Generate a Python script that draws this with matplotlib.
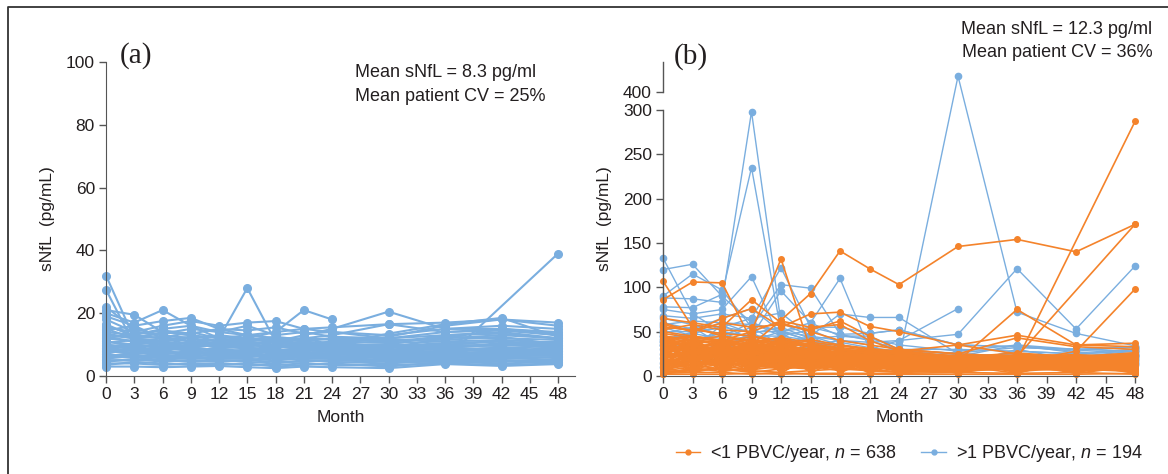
import matplotlib
matplotlib.use("Agg")
import matplotlib.pyplot as plt
from matplotlib.lines import Line2D
import numpy as np

plt.rcParams['font.family'] = ['Liberation Sans', 'DejaVu Sans']
plt.rcParams['mathtext.fontset'] = 'custom'
plt.rcParams['mathtext.rm'] = 'Liberation Sans'
plt.rcParams['mathtext.it'] = 'Liberation Sans:italic'

# Visit months
months = [0, 3, 6, 9, 12, 15, 18, 21, 24, 30, 36, 42, 48]
month_ticks = list(range(0, 49, 3))

# Panel (a): one row per patient, sNfL in pg/mL (None = no sample)
panel_a = [
    [32, 12, 9, 8, 9, 7, 8, 9, 8, 7, 8, 7, 8],
    [27.5, 10, 11, 9, 10, 9, 8, 9, 9, 8, 9, 8, 9],
    [22, 15, 13, 12, 11, 10, 11, 12, 10, 10, 9, 10, 11],
    [21, 19.5, 14, 13, 12, 11, 12, 10, 11, 9, 10, 11, 10],
    [20, 17, 21, 16, 14, 13, 12, 11, 12, 11, 12, 13, 12],
    [19, 16, 17.5, 18.5, 15, 13, 14, 15, 14, 13, 15, 15, 14],
    [18, 14, 16, 17.5, 16, 17, 17.5, 15, 15.5, 16.5, 17, 18, 17],
    [16, 13, 15, 16, 12, 28, 11, 10, 9, 10, 9, 10, 9],
    [15, 12, 14, 13, 11, 12, 14, 21, 18, None, None, None, None],
    [15.5, 14, 13, 12, 13, 12, 11, 13, 15, 20.5, 15, 16, 15],
    [14, 13, 12, 14, 12, 13, 12, 12, 13, 16.5, 14, 14.5, 13],
    [13, 12, 11, 12, 10, 11, 10, 11, 10, 13.5, 16.5, 18.5, 12.5],
    [12, 11, 12, 10, 11, 9, 12, 11, 10, 12.5, 16, 18, 16],
    [7, 6, 7, 8, 7, 6, 7, 6, 7, 6, 5.5, None, 39],
    [11, 10, 9, 11, 9, 10, 9, 10, 9, 9, 12, 15, 13],
    [12.5, 11, 10, 9, 10, 9, 8, 9, 9, 10, 13, 14, 12],
    [10, 9, 8, 9, 8, 8, 7, 8, 8, 7, 8, 9, 8],
    [9, 8, 9, 8, 7, 8, 8, 7, 7, 8, 7, 8, 7],
    [8, 7, 8, 7, 8, 7, 6, 7, 6, 7, 7, 6, 7],
    [7, 6, 6, 7, 6, 6, 7, 6, 6, 5, 6, 6, 6],
    [6, 6, 5, 6, 5, 5, 6, 5, 5, 5, 5, 6, 5],
    [5, 5, 5, 4.5, 5, 4.5, 4, 5, 4.5, 4, 5, 5, 4.5],
    [4, 4, 3.5, 4, 4, 3.5, 3.5, 4, 3.5, 3.5, 4, 3.5, 4],
    [3, 3, 2.8, 3, 3.2, 2.8, 2.5, 3, 2.8, 2.5, 3.8, 3.2, 3.8],
    [11, 9.5, 10, 10.5, 9, 9.5, 10, 9, 8.5, 9, 9.5, 10, 10],
    [9.5, 10, 9, 9.5, 10, 8.5, 9, 9.5, 9, 8, 8.5, 9, 9.5],
    [8.5, 8, 9.5, 8, 9, 9, 8.5, 8, 8.5, 7.5, 8, 8.5, 8],
    [7.5, 8.5, 7, 7.5, 7, 7.5, 8, 7.5, 7, 7, 7.5, 7, 7.5],
    [6.5, 7, 7.5, 6.5, 6.5, 7, 6.5, 6.5, 7.5, 6.5, 6.5, 7.5, 6.5],
    [5.5, 6.5, 6, 5.5, 6, 6.5, 5.5, 6, 6, 6, 6, 5.5, 6],
    [4.5, 5.5, 4.5, 5, 4.5, 5, 4.5, 4.5, 5, 4.5, 4.5, 4.5, 5.5],
    [3.5, 4.5, 4, 3.5, 3.5, 4, 3, 3.5, 4, 3, 4.5, 4, 4.5],
    [13.5, 12, 12.5, 11, 11.5, 10.5, 11, 10, 11, 10.5, 11, 11.5, 10.5],
    [10.5, 11.5, 11, 10, 9.5, 11, 9.5, 10.5, 9.5, 9.5, 10, 9.5, 11],
    [9, 9, 10.5, 8.5, 8.5, 8, 10, 8.5, 8, 8.5, 9, 10.5, 9],
    [8, 7.5, 8.5, 9, 7.5, 8.5, 7.5, 8.5, 7.5, 8, 7, 8, 8.5],
    [6, 7.5, 6.5, 6, 7, 6, 7, 7, 6.5, 5.5, 6.5, 7, 7],
    [5, 5, 5.5, 5.5, 5.5, 5.5, 5, 5.5, 5.5, 5, 5.5, 5, 5],
    [14.5, 16, 12, 11, 10, 12, 10.5, 12, 11.5, 11, 12.5, 12, 11.5],
    [16.5, 12.5, 13.5, 15, 14, 16, 13, 14, 12.5, 12, 13, 13.5, 12],
    [12, 13.5, 14.5, 13.5, 15, 14.5, 15.5, 13.5, 14, 12, 14, 15, 13.5],
    [9, 10.5, 11.5, 12.5, 12.5, 11.5, 12.5, 11.5, 12, 11.5, 11.5, 12.5, 10],
    [10, 8.5, 9, 10, 10.5, 10, 9, 10, 10, 9.5, 10.5, 11, 9.5],
    [7, 9.5, 8, 7, 8, 7, 8, 7, 8, 7.5, 9, 7.5, 8],
    [6.5, 6, 7, 7.5, 6.5, 8, 6, 6.5, 6, 6.5, 6, 6.5, 6.5],
]

# Panel (b): >1 PBVC/year group
high_pbvc = [
    [133, 70, 50, 45, 40, 35, 28, 25, 20, 18, 16, 18, 20],
    [120, 126, 90, 60, 50, 40, 30, 22, 20, 18, 18, 20, 22],
    [90, 115, 97, 55, 103, 99, 47, 40, 30, 25, 22, 20, 18],
    [88, 87, 83, 298, 60, 45, 35, 30, 25, 20, 18, 22, 25],
    [78, 77, 92, 235, 50, 40, 30, 28, 22, 20, 20, 22, 24],
    [75, 70, 75, 112, 40, 35, 30, 25, 20, 22, 35, 30, 33],
    [68, 65, 70, 65, 122, 55, 47, 48, 52, 35, 33, 28, 33],
    [60, 53, 65, 76, 50, 45, 40, 38, 40, 76, None, None, None],
    [55, 45, 40, 35, 30, 28, 25, 22, 20, 418, 72, 48, 34],
    [50, 50, 55, 50, 50, 60, 45, 45, 30, 30, 28, 25, 28],
    [45, 40, 50, 45, 96, 60, 110, 30, 25, 20, 18, 20, 22],
    [42, 48, 55, 65, 71, 45, 70, 66, 66, 25, 22, 20, 24],
    [38, 50, 60, 58, 50, 55, 55, 48, 52, 35, 33, 30, 28],
    [35, 30, 40, 45, 45, 40, 35, 30, 40, 47, 121, 53, 124],
    [52, 40, 48, 35, 45, 30, 25, 20, 22, 15, 18, 14, 16],
    [48, 55, 35, 45, 38, 40, 30, 25, 18, 20, 15, 19, 22],
    [45, 30, 58, 40, 50, 25, 35, 30, 25, 18, 22, 17, 14],
    [40, 48, 42, 55, 35, 45, 28, 22, 28, 22, 25, 20, 26],
    [35, 25, 30, 28, 42, 35, 40, 35, 20, 14, 28, 25, 18],
    [30, 38, 25, 50, 28, 22, 20, 28, 30, 24, 20, 22, 28],
    [25, 20, 40, 22, 30, 38, 32, 18, 15, 12, 30, 18, 20],
    [20, 35, 18, 30, 25, 18, 22, 30, 24, 20, 14, 24, 30],
    [15, 12, 22, 18, 20, 15, 18, 15, 12, 10, 12, 12, 15],
    [10, 18, 14, 12, 15, 12, 10, 12, 18, 8, 10, 10, 12],
    [65, 58, 45, 60, 45, 52, 38, 32, 28, 26, 32, 30, 32],
    [58, 62, 60, 48, 55, 42, 45, 42, 35, 28, 35, 26, 30],
]

# Panel (b): <1 PBVC/year group
low_pbvc = [
    [45, 30, 40, 25, 38, 20, 28, 15, 24, 12, 20, 10, 22],
    [42, 44, 20, 38, 15, 32, 12, 28, 10, 20, 8, 18, 12],
    [40, 25, 43, 30, 40, 18, 30, 22, 26, 16, 22, 20, 24],
    [38, 40, 35, 42, 28, 34, 25, 30, 20, 22, 18, 21, 19],
    [36, 18, 30, 15, 34, 26, 20, 14, 22, 10, 24, 15, 20],
    [34, 38, 28, 36, 22, 30, 32, 18, 28, 18, 14, 22, 16],
    [32, 22, 38, 28, 42, 22, 18, 26, 15, 20, 20, 12, 23],
    [30, 35, 25, 40, 30, 15, 26, 20, 24, 14, 16, 19, 14],
    [28, 15, 33, 20, 25, 35, 14, 24, 12, 21, 12, 16, 25],
    [26, 32, 18, 34, 18, 28, 22, 12, 26, 12, 23, 14, 11],
    [24, 28, 42, 22, 36, 12, 30, 25, 18, 16, 10, 22, 18],
    [22, 42, 22, 32, 14, 24, 16, 30, 14, 19, 19, 11, 21],
    [20, 12, 36, 18, 32, 20, 24, 10, 20, 8, 15, 17, 9],
    [18, 36, 15, 38, 20, 16, 10, 22, 9, 17, 21, 8, 17],
    [16, 20, 32, 12, 26, 30, 20, 16, 25, 11, 9, 20, 13],
    [14, 33, 12, 30, 10, 25, 28, 8, 16, 15, 17, 13, 22],
    [12, 26, 28, 10, 38, 10, 18, 20, 11, 7, 13, 18, 8],
    [10, 16, 24, 35, 16, 22, 8, 18, 19, 13, 20, 9, 16],
    [8, 30, 10, 26, 30, 8, 22, 11, 7, 18, 7, 15, 10],
    [6, 10, 26, 16, 12, 26, 12, 24, 13, 6, 16, 7, 20],
    [4, 24, 8, 28, 24, 14, 16, 6, 21, 10, 11, 18, 6],
    [3, 8, 20, 8, 20, 18, 6, 14, 5, 14, 6, 12, 14],
    [44, 20, 16, 24, 8, 34, 14, 27, 17, 9, 18, 6, 12],
    [41, 6, 34, 6, 35, 6, 24, 9, 23, 5, 12, 20, 7],
    [39, 27, 6, 33, 6, 28, 4, 19, 8, 19, 5, 10, 18],
    [37, 14, 39, 14, 33, 4, 31, 5, 27, 4, 22, 4, 15],
    [35, 42, 14, 44, 4, 20, 9, 26, 4, 16, 4, 16, 5],
    [33, 4, 30, 4, 28, 12, 29, 4, 18, 3, 19, 3, 24],
    [31, 34, 4, 20, 9, 33, 3, 21, 3, 12, 3, 21, 4],
    [29, 3, 23, 3, 39, 3, 20, 3, 15, 3, 14, 3, 11],
    [27, 39, 3, 36, 3, 25, 5, 23, 6, 15, 8, 14, 3],
    [25, 5, 37, 11, 23, 5, 27, 7, 22, 6, 21, 5, 19],
    [23, 37, 5, 24, 5, 31, 7, 29, 7, 17, 5, 19, 6],
    [21, 7, 29, 5, 37, 7, 19, 5, 21, 5, 17, 6, 21],
    [19, 29, 7, 42, 7, 19, 11, 17, 10, 20, 7, 17, 8],
    [17, 11, 27, 7, 29, 11, 23, 13, 24, 7, 15, 9, 17],
    [15, 23, 11, 32, 11, 27, 13, 28, 11, 13, 12, 13, 10],
    [13, 19, 35, 9, 27, 9, 26, 10, 19, 9, 18, 11, 23],
    [11, 41, 19, 27, 13, 29, 9, 25, 6, 21, 10, 15, 7],
    [9, 13, 41, 13, 31, 13, 17, 15, 25, 8, 22, 7, 16],
    [7, 31, 17, 23, 17, 17, 21, 7, 12, 14, 6, 19, 9],
    [5, 17, 31, 19, 21, 15, 13, 19, 14, 10, 19, 12, 20],
    [47, 26, 21, 29, 19, 23, 15, 21, 16, 11, 13, 14, 13],
    [46, 36, 24, 17, 33, 21, 25, 16, 20, 13, 16, 17, 15],
    [43, 21, 37, 21, 41, 24, 27, 12, 23, 15, 11, 18, 24],
    [2, 9, 13, 40, 15, 16, 10, 13, 8, 17, 20, 10, 12],
    [3, 4, 4, 2, 4, 2, 2, 2, 2, 2, 2, 2, 3],
    [2, 2, 2, 3, 2, 3, 3, 3, 3, 4, 3, 4, 2],
    [14, 18, 22, 26, 30, 26, 22, 18, 14, 10, 14, 18, 22],
    [26, 22, 18, 14, 10, 14, 18, 22, 26, 22, 18, 14, 10],
    [38, 34, 30, 26, 34, 30, 26, 22, 18, 14, 18, 22, 26],
    [8, 12, 16, 20, 24, 28, 24, 20, 16, 12, 8, 12, 16],
    [20, 24, 28, 32, 28, 24, 20, 16, 12, 16, 20, 16, 12],
    [32, 28, 24, 20, 16, 20, 24, 28, 22, 18, 14, 10, 14],
    [42, 36, 33, 30, 27, 24, 21, 18, 15, 20, 17, 14, 19],
    [5, 7, 9, 11, 13, 11, 9, 7, 5, 7, 9, 11, 9],
    [11, 15, 19, 23, 27, 31, 27, 23, 19, 15, 11, 7, 11],
    [23, 27, 31, 35, 31, 27, 23, 19, 15, 11, 15, 19, 15],
    [35, 31, 27, 23, 19, 15, 11, 15, 19, 23, 19, 15, 19],
    [17, 21, 25, 29, 33, 37, 30, 26, 22, 18, 22, 18, 14],
    [29, 33, 37, 41, 37, 33, 29, 25, 21, 17, 13, 9, 13],
    [41, 45, 40, 35, 30, 25, 20, 15, 10, 6, 10, 14, 18],
    [4, 6, 8, 6, 4, 6, 8, 6, 4, 6, 8, 6, 8],
    [48, 43, 39, 44, 40, 36, 32, 29, 26, 23, 21, 19, 17],
    [37, 41, 45, 39, 43, 38, 34, 30, 27, 21, 23, 24, 21],
    [24, 20, 16, 12, 8, 12, 16, 20, 24, 20, 16, 12, 8],
    [9, 13, 17, 21, 25, 21, 17, 13, 9, 5, 9, 13, 17],
    [31, 36, 41, 37, 33, 29, 25, 21, 17, 13, 9, 13, 17],
    [19, 15, 11, 7, 11, 15, 19, 23, 27, 19, 24, 21, 25],
    [45, 41, 37, 33, 37, 41, 35, 31, 28, 22, 20, 18, 16],
    [13, 9, 5, 9, 13, 17, 21, 25, 29, 21, 17, 13, 9],
    [27, 31, 26, 21, 16, 11, 6, 11, 16, 21, 26, 21, 26],
    [33, 29, 34, 38, 42, 35, 28, 21, 14, 7, 12, 17, 22],
    [16, 12, 8, 4, 8, 12, 16, 20, 17, 14, 11, 8, 5],
    [22, 26, 30, 34, 38, 34, 30, 26, 22, 18, 14, 10, 6],
    [6, 4, 10, 16, 12, 8, 14, 10, 6, 10, 14, 18, 14],
    [40, 44, 39, 34, 29, 24, 19, 14, 9, 14, 19, 23, 20],
    [12, 16, 14, 12, 10, 8, 12, 10, 8, 9, 10, 8, 10],
    [107, 55, 45, 40, 38, 35, 30, 25, 22, 20, 18, 16, 18],
    [86, 106, 105, 40, 35, 30, 25, 22, 20, 18, 17, 16, 15],
    [65, 60, 55, 86, 60, 50, 40, 35, 30, 25, 22, 20, 22],
    [60, 50, 65, 76, 55, 70, 72, 56, 50, 35, 46, 35, 37],
    [45, 40, 38, 35, 63, 93, 141, 121, 103, 146, 154, 140, 171],
    [50, 45, 40, 50, 132, 30, 25, 20, 18, 15, 14, 15, 16],
    [40, 35, 30, 25, 22, 18, 15, 14, 12, 15, 18, None, 287],
    [35, 30, 28, 25, 22, 20, 18, 16, 15, 12, 22, None, 171],
    [30, 28, 25, 22, 20, 18, 16, 15, 14, 12, 15, 28, 98],
    [55, 52, 48, 45, 40, 35, 30, 28, 25, 17, 75, 35, 33],
    [58, 50, 60, 55, 58, 52, 62, 45, 30, 25, 43, 33, 30],
    [52, 58, 52, 50, 62, 55, 58, 40, 28, 35, 25, 22, 20],
]

labels = [r'<1 PBVC/year, $n$ = 638', r'>1 PBVC/year, $n$ = 194']
stats_a = ['Mean sNfL = 8.3 pg/ml', 'Mean patient CV = 25%']
stats_b = ['Mean sNfL = 12.3 pg/ml', 'Mean patient CV = 36%']

blue = '#7AAEDF'
orange = '#F4832B'
spine_c = '#555555'
text_c = '#231F20'


def visits(row):
    xs = [m for m, v in zip(months, row) if v is not None]
    ys = [v for v in row if v is not None]
    return xs, ys


# broken y axis for panel (b): 300-400 squeezed into a small gap
def fwd(y):
    y = np.asarray(y, dtype=float)
    return np.where(y <= 300, y, np.where(y < 400, 300 + (y - 300) * 0.2, 320 + (y - 400)))


def inv(t):
    t = np.asarray(t, dtype=float)
    return np.where(t <= 300, t, np.where(t < 320, 300 + (t - 300) / 0.2, 400 + (t - 320)))


W, H = 1168, 474
fig = plt.figure(figsize=(W / 100, H / 100), dpi=100)
ax1 = fig.add_axes([106 / W, 1 - 376 / H, (575 - 106) / W, (376 - 62) / H])
ax2 = fig.add_axes([663 / W, 1 - 376 / H, (1137 - 663) / W, (376 - 62) / H])

# outer frame (left and top only)
fig.add_artist(Line2D([8 / W, 8 / W, 1], [0, 1 - 7 / H, 1 - 7 / H],
                      transform=fig.transFigure, color='#333333', lw=1.3))

# ---- panel (a)
for row in panel_a:
    xs, ys = visits(row)
    ax1.plot(xs, ys, color=blue, lw=1.5, marker='o', ms=5.5, clip_on=False)

ax1.set_xlim(0, 49.8)
ax1.set_ylim(0, 100)
ax1.set_yticks(range(0, 101, 20))

# ---- panel (b)
ax2.set_yscale('function', functions=(fwd, inv))
for row in high_pbvc:
    xs, ys = visits(row)
    ax2.plot(xs, ys, color=blue, lw=1.0, marker='o', ms=4.5, clip_on=False)
for row in low_pbvc:
    xs, ys = visits(row)
    ax2.plot(xs, ys, color=orange, lw=1.2, marker='o', ms=4, clip_on=False)

ax2.set_xlim(0, 48.2)
ax2.set_ylim(0, 434)
ax2.set_yticks([0, 50, 100, 150, 200, 250, 300, 400])
ax2.spines['left'].set_visible(False)
ytr = ax2.get_yaxis_transform()
ax2.plot([0, 0], [0, 300], transform=ytr, color=spine_c, lw=1.0, clip_on=False)
ax2.plot([0, 0], [400, 434], transform=ytr, color=spine_c, lw=1.0, clip_on=False)

for ax in (ax1, ax2):
    ax.set_xticks(month_ticks)
    for s in ('top', 'right'):
        ax.spines[s].set_visible(False)
    for s in ('left', 'bottom'):
        ax.spines[s].set_color(spine_c)
    ax.tick_params(direction='out', length=5, width=1, color=spine_c,
                   labelsize=12.5, labelcolor=text_c, pad=3)
    ax.set_xlabel('Month', fontsize=12.5, color=text_c, labelpad=6)
    ax.set_ylabel('sNfL  (pg/mL)', fontsize=12.5, color=text_c, labelpad=8)

ax1.text(0.03, 1.022, '(a)', transform=ax1.transAxes, fontsize=21,
         family='Liberation Serif', va='center', ha='left', color=text_c)
ax2.text(0.023, 1.019, '(b)', transform=ax2.transAxes, fontsize=21,
         family='Liberation Serif', va='center', ha='left', color=text_c)

ax1.text(0.531, 0.965, stats_a[0], transform=ax1.transAxes, fontsize=13,
         va='center', ha='left', color=text_c)
ax1.text(0.531, 0.891, stats_a[1], transform=ax1.transAxes, fontsize=13,
         va='center', ha='left', color=text_c)
ax2.text(1.032, 1.102, stats_b[0], transform=ax2.transAxes, fontsize=13,
         va='center', ha='right', color=text_c)
ax2.text(1.032, 1.029, stats_b[1], transform=ax2.transAxes, fontsize=13,
         va='center', ha='right', color=text_c)

handles = [Line2D([], [], color=orange, lw=1.0, marker='o', ms=3.5),
           Line2D([], [], color=blue, lw=1.0, marker='o', ms=3.5)]
leg = ax2.legend(handles, labels, loc='center', bbox_to_anchor=(0.519, -0.248),
                 ncol=2, frameon=False, fontsize=13, handlelength=1.35,
                 handletextpad=0.55, columnspacing=1.4, borderpad=0)
for t in leg.get_texts():
    t.set_color(text_c)

fig.savefig('out.png', dpi=100)
